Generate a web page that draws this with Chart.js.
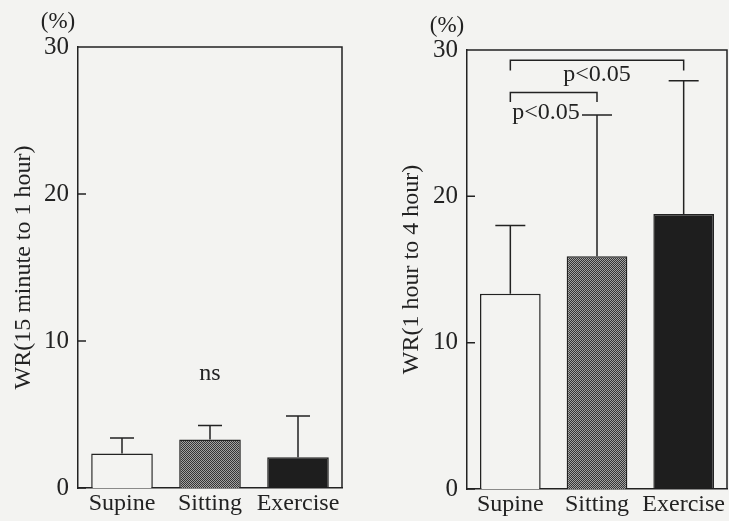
<!DOCTYPE html>
<html>
<head>
<meta charset="utf-8">
<script src="https://cdn.jsdelivr.net/npm/chart.js@4/dist/chart.umd.min.js"></script>
<style>
  html, body { margin: 0; padding: 0; background: #f3f3f1; }
  #wrap { position: relative; width: 729px; height: 521px; overflow: hidden; }
  .panel { position: absolute; top: 0; }
</style>
</head>
<body>
<div id="wrap">
  <div class="panel" style="left:0"><canvas id="early" width="365" height="521"></canvas></div>
  <div class="panel" style="left:365px"><canvas id="late" width="364" height="521"></canvas></div>
</div>
<script>
// Data
const categories = ['Supine', 'Sitting', 'Exercise'];
const yTicks = [0, 10, 20, 30];

const earlyMean = [2.35, 3.3, 2.1];      // WR 15 min - 1 h (%)
const earlySd = [1.05, 0.95, 2.8];

const lateMean = [13.35, 15.9, 18.8];    // WR 1 h - 4 h (%)
const lateSd = [4.65, 9.65, 9.1];

// significance brackets on the right panel
const bracketFrom = [0, 0];
const bracketTo = [2, 1];
const bracketY = [29.3, 27.1];
const bracketLeg = [28.6, 26.45];
const bracketText = ['p<0.05', 'p<0.05'];
const bracketTextY = [28.3, 25.7];

const nsText = 'ns';
const nsY = 7.8;

const INK = '#222';
const BG = '#f3f3f1';
const SERIF = "'Liberation Serif', 'DejaVu Serif', serif";

// dotted fill for the Sitting bar
function makeDots() {
  const c = document.createElement('canvas');
  c.width = 2; c.height = 2;
  const g = c.getContext('2d');
  g.fillStyle = '#a2a2a2';
  g.fillRect(0, 0, 2, 2);
  g.fillStyle = '#353535';
  g.fillRect(0, 0, 1, 1);
  g.fillRect(1, 1, 1, 1);
  return g.createPattern(c, 'repeat');
}

// upper error bars only
const errorBars = {
  id: 'errorBars',
  afterDatasetsDraw(chart, args, opts) {
    const { ctx } = chart;
    const y = chart.scales.y;
    const ds = chart.data.datasets[0];
    const meta = chart.getDatasetMeta(0);
    ctx.save();
    ctx.strokeStyle = INK;
    ctx.lineWidth = 1.5;
    meta.data.forEach((bar, i) => {
      const base = y.getPixelForValue(ds.data[i]);
      const top = y.getPixelForValue(ds.data[i] + opts.sd[i]);
      ctx.beginPath();
      ctx.moveTo(bar.x, base);
      ctx.lineTo(bar.x, top);
      ctx.moveTo(bar.x - opts.cap, top);
      ctx.lineTo(bar.x + opts.cap, top);
      ctx.stroke();
    });
    ctx.restore();
  }
};

// closes the box (top + right), inward y ticks, unit label
const frame = {
  id: 'frame',
  afterDraw(chart, args, opts) {
    const { ctx, chartArea: a } = chart;
    const y = chart.scales.y;
    ctx.save();
    ctx.strokeStyle = INK;
    ctx.lineWidth = 1.5;
    ctx.beginPath();
    ctx.moveTo(a.left, a.top);
    ctx.lineTo(a.right, a.top);
    ctx.lineTo(a.right, a.bottom);
    y.ticks.forEach(t => {
      const py = y.getPixelForValue(t.value);
      ctx.moveTo(a.left, py);
      ctx.lineTo(a.left + 8, py);
    });
    ctx.stroke();
    ctx.fillStyle = INK;
    ctx.font = '23px ' + SERIF;
    ctx.textAlign = 'center';
    ctx.textBaseline = 'middle';
    ctx.fillText('(%)', opts.unitX, opts.unitY);
    ctx.restore();
  }
};

// "ns" and the p<0.05 brackets
const notes = {
  id: 'notes',
  afterDraw(chart, args, opts) {
    const { ctx } = chart;
    const x = chart.scales.x, y = chart.scales.y;
    ctx.save();
    ctx.strokeStyle = INK;
    ctx.fillStyle = INK;
    ctx.lineWidth = 1.5;
    ctx.font = '24px ' + SERIF;
    ctx.textBaseline = 'middle';
    if (opts.ns) {
      ctx.textAlign = 'center';
      ctx.fillText(nsText, x.getPixelForValue(1), y.getPixelForValue(nsY));
    }
    if (opts.brackets) {
      bracketFrom.forEach((from, i) => {
        const x1 = x.getPixelForValue(from);
        const x2 = x.getPixelForValue(bracketTo[i]);
        const yb = y.getPixelForValue(bracketY[i]);
        const yl = y.getPixelForValue(bracketLeg[i]);
        ctx.beginPath();
        ctx.moveTo(x1, yl);
        ctx.lineTo(x1, yb);
        ctx.lineTo(x2, yb);
        ctx.lineTo(x2, yl);
        ctx.stroke();
        const ty = y.getPixelForValue(bracketTextY[i]);
        if (i === 0) {
          ctx.textAlign = 'center';
          ctx.fillText(bracketText[i], (x1 + x2) / 2, ty);
        } else {
          ctx.textAlign = 'left';
          ctx.fillText(bracketText[i], x1 + 2, ty);
        }
      });
    }
    ctx.restore();
  }
};

function makeChart(id, cfg) {
  return new Chart(document.getElementById(id), {
    type: 'bar',
    data: {
      labels: categories,
      datasets: [{
        data: cfg.mean,
        backgroundColor: [BG, makeDots(), '#1e1e1e'],
        borderColor: INK,
        borderWidth: 1.5,
        barPercentage: 0.7,
        categoryPercentage: 1
      }]
    },
    options: {
      responsive: false,
      animation: false,
      layout: { padding: cfg.padding },
      plugins: {
        legend: { display: false },
        tooltip: { enabled: false },
        errorBars: { sd: cfg.sd, cap: cfg.cap },
        frame: { unitX: cfg.unitX, unitY: cfg.unitY },
        notes: { ns: cfg.ns, brackets: cfg.brackets }
      },
      scales: {
        x: {
          grid: { display: false, drawTicks: false },
          border: { display: true, color: INK, width: 1.5 },
          ticks: {
            color: INK,
            font: { family: SERIF, size: 24 },
            padding: 1,
            maxRotation: 0,
            minRotation: 0,
            autoSkip: false
          },
          afterFit: s => { s.height = cfg.xHeight; }
        },
        y: {
          min: 0,
          max: 30,
          afterBuildTicks: s => { s.ticks = yTicks.map(v => ({ value: v })); },
          grid: { display: false, drawTicks: false },
          border: { display: true, color: INK, width: 1.5 },
          ticks: { color: INK, font: { family: SERIF, size: 25 }, padding: cfg.tickPad },
          title: {
            display: true,
            text: cfg.title,
            color: INK,
            font: { family: SERIF, size: 24 },
            padding: { top: cfg.titlePad, bottom: 0 }
          },
          afterFit: s => { s.width = cfg.yWidth; }
        }
      }
    },
    plugins: [errorBars, frame, notes]
  });
}

makeChart('early', {
  mean: earlyMean,
  sd: earlySd,
  cap: 12,
  title: 'WR(15 minute to 1 hour)',
  padding: { top: 47, right: 23, left: 0, bottom: 0 },
  yWidth: 78,
  xHeight: 33,
  tickPad: 9,
  titlePad: 9,
  unitX: 58,
  unitY: 22,
  ns: true,
  brackets: false
});

makeChart('late', {
  mean: lateMean,
  sd: lateSd,
  cap: 15,
  title: 'WR(1 hour to 4 hour)',
  padding: { top: 50, right: 2, left: 0, bottom: 0 },
  yWidth: 102,
  xHeight: 32,
  tickPad: 9,
  titlePad: 32,
  unitX: 82,
  unitY: 26,
  ns: false,
  brackets: true
});
</script>
</body>
</html>
